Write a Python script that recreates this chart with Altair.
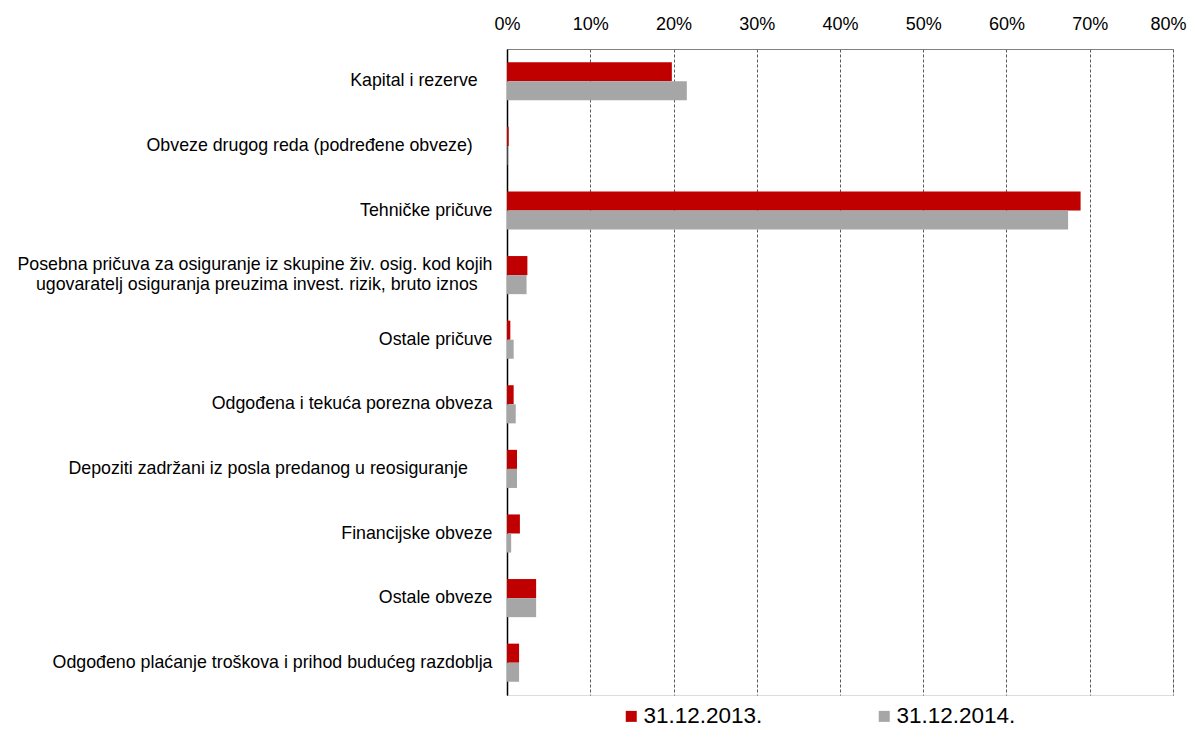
import altair as alt
import pandas as pd

NB = "\u00a0"
ZW = "\u200b"
categories = [
    "Kapital i rezerve" + NB * 3 + ZW,
    "Obveze drugog reda (podređene obveze)" + NB * 4 + ZW,
    "Tehničke pričuve",
    "Posebna pričuva za osiguranje iz skupine živ. osig. kod kojih|ugovaratelj osiguranja preuzima invest. rizik, bruto iznos" + NB * 3 + ZW,
    "Ostale pričuve",
    "Odgođena i tekuća porezna obveza",
    "Depoziti zadržani iz posla predanog u reosiguranje" + NB * 5 + ZW,
    "Financijske obveze",
    "Ostale obveze",
    "Odgođeno plaćanje troškova i prihod budućeg razdoblja",
]
series = ["31.12.2013.", "31.12.2014."]
values_2013 = [19.8, 0.2, 68.9, 2.45, 0.4, 0.8, 1.2, 1.55, 3.5, 1.45]
values_2014 = [21.6, 0.05, 67.4, 2.35, 0.8, 1.05, 1.2, 0.5, 3.5, 1.45]
colors = ["#C00000", "#A6A6A6"]

rows = []
for c, a, b in zip(categories, values_2013, values_2014):
    rows.append({"kategorija": c, "serija": series[0], "vrijednost": a / 100})
    rows.append({"kategorija": c, "serija": series[1], "vrijednost": b / 100})
df = pd.DataFrame(rows)

FONT = "Liberation Sans"

chart = alt.Chart(df).mark_bar(stroke=None).encode(
    x=alt.X(
        "vrijednost:Q",
        scale=alt.Scale(domain=[0, 0.8], nice=False),
        axis=alt.Axis(
            orient="top", format=".0%", values=[i / 10 for i in range(9)],
            grid=True, gridColor="#595959", gridDash=[3, 2], gridWidth=1,
            ticks=False, domain=True, domainColor="#808080",
            labelFontSize=18, labelPadding=16, labelColor="#000000",
            labelFont=FONT, title=None, labelFlush=True, labelFlushOffset=13,
        ),
    ),
    y=alt.Y(
        "kategorija:N",
        sort=categories,
        scale=alt.Scale(paddingInner=0.41, paddingOuter=0.205),
        axis=alt.Axis(
            title=None, ticks=False, domain=True, domainColor="#000000",
            domainWidth=1.5, labelFontSize=17.8, labelFont=FONT,
            labelColor="#000000", labelPadding=15, labelLimit=600,
            labelExpr="split(datum.label, '|')", labelLineHeight=20,
            labelOffset={"condition": {"test": "indexof(datum.value, '|') >= 0", "value": -10}, "value": 0},
        ),
    ),
    yOffset=alt.YOffset("serija:N", sort=series),
    color=alt.Color(
        "serija:N",
        sort=series,
        scale=alt.Scale(domain=series, range=colors),
        legend=alt.Legend(
            title=None, orient="none", direction="horizontal",
            legendX=113, legendY=656, symbolType="square", symbolSize=121,
            symbolStrokeWidth=0, labelFontSize=22.5, labelFont=FONT,
            labelColor="#000000", columnPadding=110, labelOffset=1,
            padding=0,
        ),
    ),
).properties(
    width=666,
    height=646,
    autosize=alt.AutoSizeParams(type="none"),
    padding={"left": 499, "top": 41, "right": 14, "bottom": 37},
).configure_view(
    stroke="#808080", strokeWidth=1
).configure(background="white")

chart.save("out.html", embed_options={"renderer": "svg", "actions": False})
